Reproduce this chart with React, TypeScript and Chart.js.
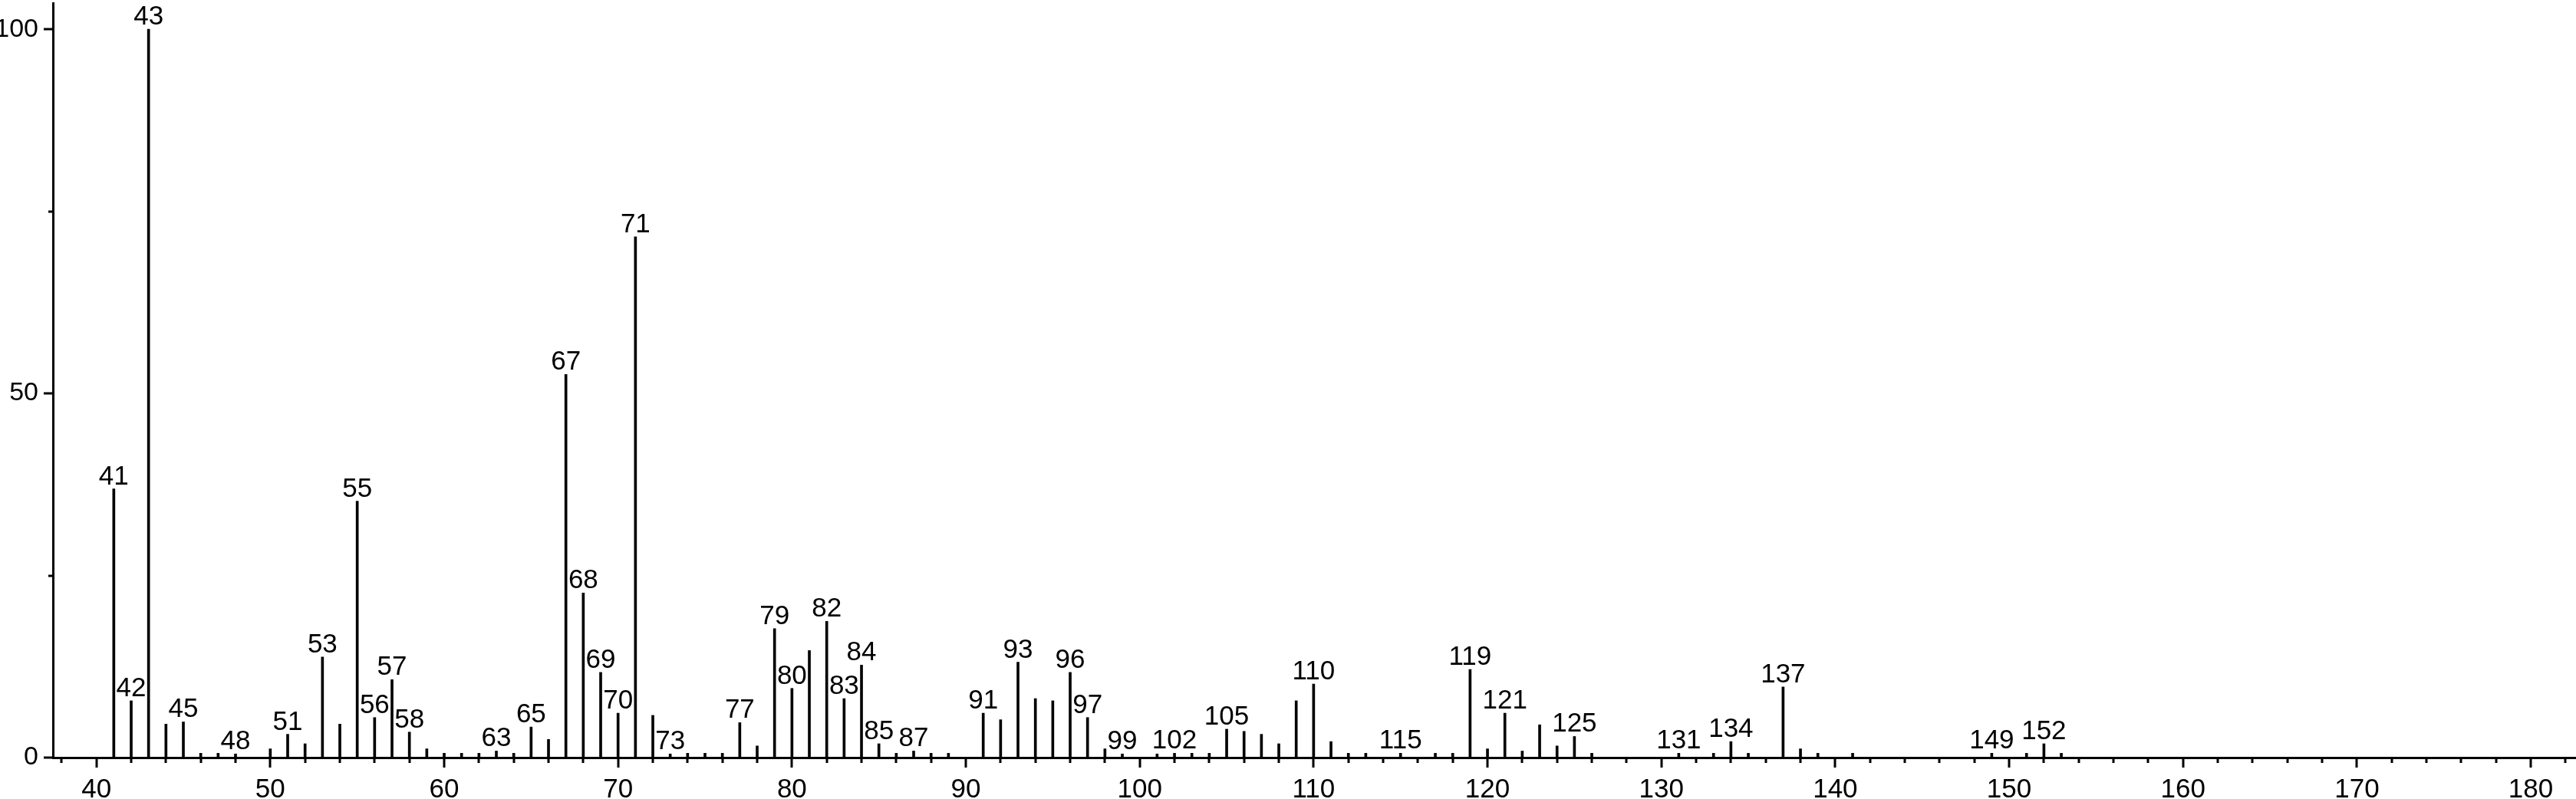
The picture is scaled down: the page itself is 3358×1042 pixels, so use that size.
import React, { useEffect, useRef } from 'react';
import { Chart, registerables } from 'chart.js';

Chart.register(...registerables);

// m/z of every peak
const mzValues = [
  41, 42, 43, 44, 45, 46, 47, 48, 50, 51, 52, 53, 54, 55, 56, 57, 58, 59, 60, 61,
  62, 63, 64, 65, 66, 67, 68, 69, 70, 71, 72, 73, 74, 75, 76, 77, 78, 79, 80, 81,
  82, 83, 84, 85, 86, 87, 88, 89, 91, 92, 93, 94, 95, 96, 97, 98, 99, 101, 102, 103,
  104, 105, 106, 107, 108, 109, 110, 111, 112, 113, 115, 117, 118, 119, 120, 121, 122, 123, 124, 125,
  126, 131, 133, 134, 135, 137, 138, 139, 141, 149, 151, 152, 153,
];

// relative intensity (%) for each m/z above
const intensities = [
  36.9, 7.8, 100, 4.6, 4.9, 0.6, 0.6, 0.5, 1.2, 3.2, 1.9, 13.8, 4.6, 35.2, 5.5, 10.7, 3.5, 1.2, 0.6, 0.6,
  0.6, 0.9, 0.6, 4.2, 2.5, 52.6, 22.6, 11.7, 6.1, 71.5, 5.8, 0.5, 0.6, 0.6, 0.6, 4.8, 1.6, 17.7, 9.5, 14.7,
  18.7, 8.1, 12.7, 1.9, 0.6, 0.9, 0.6, 0.6, 6.1, 5.2, 13.1, 8.1, 7.8, 11.7, 5.5, 1.2, 0.5, 0.5, 0.6, 0.6,
  0.6, 3.9, 3.6, 3.2, 1.9, 7.8, 10.1, 2.2, 0.6, 0.6, 0.6, 0.6, 0.6, 12.1, 1.2, 6.1, 0.9, 4.5, 1.6, 2.9,
  0.6, 0.6, 0.6, 2.2, 0.6, 9.7, 1.2, 0.6, 0.6, 0.6, 0.6, 1.9, 0.6,
];

// peaks that carry an m/z annotation
const labeledPeaks = [
  41, 42, 43, 45, 48, 51, 53, 55, 56, 57, 58, 63, 65, 67, 68, 69, 70, 71, 73, 77,
  79, 80, 82, 83, 84, 85, 87, 91, 93, 96, 97, 99, 102, 105, 110, 115, 119, 121, 125, 131,
  134, 137, 149, 152,
];

const xLabelStep = 10;
const xMinorStep = 2;
const yLabelStep = 50;
const yMinorStep = 25;
const xMin = 37.5;
const xMax = 182.6;
const yMax = 103.6;

const FONT = "'Liberation Sans', Arial, Helvetica, sans-serif";

export default function App() {
  const ref = useRef<HTMLCanvasElement>(null);

  useEffect(() => {
    const canvas = ref.current;
    if (!canvas) return;

    const decor = {
      id: 'spectrumDecor',
      afterDraw(chart: any) {
        const ctx = chart.ctx;
        const xs = chart.scales.x;
        const ys = chart.scales.y;
        const ca = chart.chartArea;
        ctx.save();
        ctx.strokeStyle = '#000';
        ctx.lineWidth = 3;
        xs.ticks.forEach((t: any) => {
          const px = Math.round(xs.getPixelForValue(t.value));
          const major = Math.abs(t.value % xLabelStep) < 1e-6;
          ctx.beginPath();
          ctx.moveTo(px, ca.bottom);
          ctx.lineTo(px, ca.bottom + (major ? 13 : 7));
          ctx.stroke();
        });
        ys.ticks.forEach((t: any) => {
          const py = Math.round(ys.getPixelForValue(t.value));
          const major = Math.abs(t.value % yLabelStep) < 1e-6;
          ctx.beginPath();
          ctx.moveTo(ca.left, py);
          ctx.lineTo(ca.left - (major ? 12 : 6), py);
          ctx.stroke();
        });
        ctx.fillStyle = '#000';
        ctx.font = `35px ${FONT}`;
        ctx.textAlign = 'center';
        ctx.textBaseline = 'alphabetic';
        labeledPeaks.forEach((m) => {
          const i = mzValues.indexOf(m);
          if (i < 0) return;
          const px = xs.getPixelForValue(m);
          const py = ys.getPixelForValue(intensities[i]);
          ctx.fillText(String(m), px, py - 6);
        });
        ctx.restore();
      },
    };

    const chart = new Chart(canvas, {
      type: 'bar',
      data: {
        datasets: [
          {
            data: mzValues.map((m, i) => ({ x: m, y: intensities[i] })),
            backgroundColor: '#000',
            borderWidth: 0,
            barThickness: 3,
          },
        ],
      },
      options: {
        responsive: false,
        animation: false,
        events: [],
        layout: { padding: { top: 4, left: 0, right: 0, bottom: 0 } },
        plugins: { legend: { display: false }, tooltip: { enabled: false } },
        scales: {
          x: {
            type: 'linear',
            min: xMin,
            max: xMax,
            offset: false,
            grid: { display: false },
            border: { display: true, color: '#000', width: 3 },
            ticks: {
              stepSize: xMinorStep,
              includeBounds: false,
              autoSkip: false,
              maxRotation: 0,
              minRotation: 0,
              padding: 13,
              color: '#000',
              font: { family: FONT, size: 35 },
              callback: (v: any) => (Number(v) % xLabelStep === 0 ? String(v) : ''),
            },
            afterFit: (s: any) => {
              s.height = 54;
              s.paddingLeft = 0;
              s.paddingRight = 0;
            },
          },
          y: {
            type: 'linear',
            min: 0,
            max: yMax,
            grid: { display: false },
            border: { display: true, color: '#000', width: 3 },
            ticks: {
              stepSize: yMinorStep,
              includeBounds: false,
              autoSkip: false,
              padding: 11,
              color: '#000',
              font: { family: FONT, size: 34 },
              callback: (v: any) => (Number(v) % yLabelStep === 0 ? String(v) : ''),
            },
            afterFit: (s: any) => {
              s.width = 69;
              s.paddingTop = 0;
              s.paddingBottom = 0;
            },
          },
        },
      },
      plugins: [decor],
    });

    return () => chart.destroy();
  }, []);

  return (
    <div style={{ position: 'absolute', left: 0, top: 0, width: 3358, height: 1042, background: '#fff' }}>
      <canvas ref={ref} width={3358} height={1042} style={{ display: 'block', width: 3358, height: 1042 }} />
    </div>
  );
}
